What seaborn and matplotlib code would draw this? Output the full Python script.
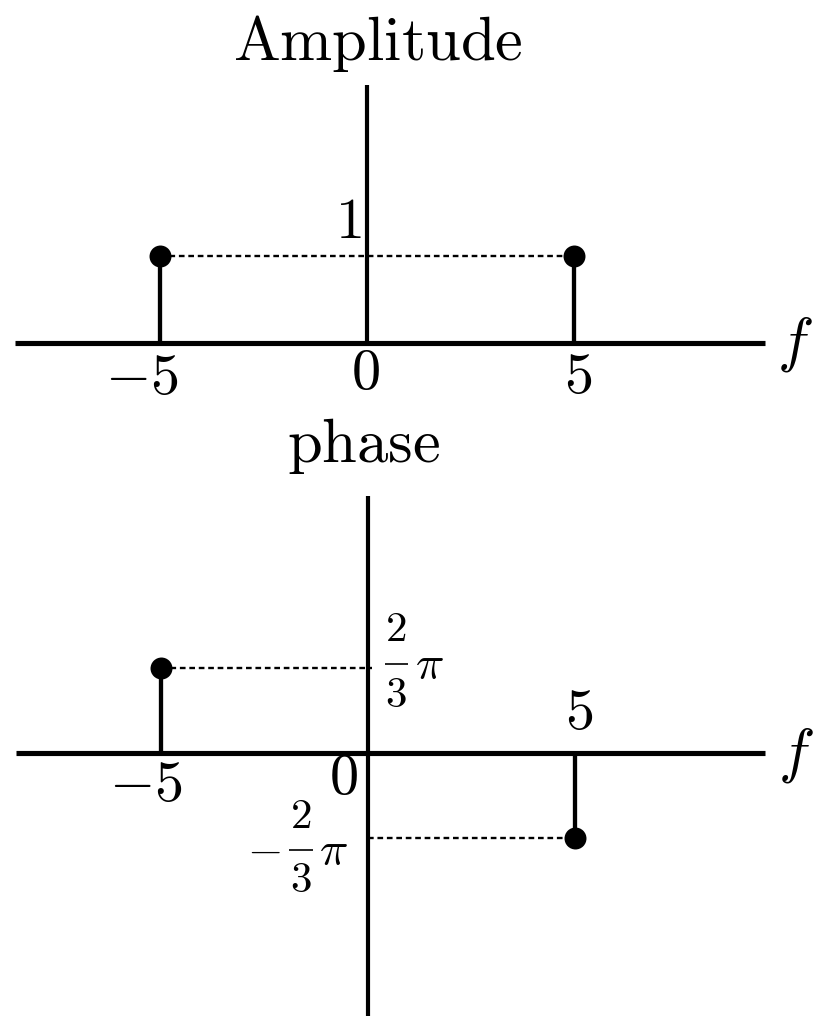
import numpy as np
import pandas as pd
import matplotlib
matplotlib.use("Agg")
import matplotlib.pyplot as plt
from matplotlib.transforms import IdentityTransform
import seaborn as sns

# Two-sided spectrum of a sinusoid at f = 5
freqs = [-5, 5]
amplitude = [1, 1]
phase = [2 * np.pi / 3, -2 * np.pi / 3]

amp_df = pd.DataFrame({"f": freqs, "value": amplitude})
ph_df = pd.DataFrame({"f": freqs, "value": phase})

sns.set_theme(style="white")
plt.rcParams["mathtext.fontset"] = "cm"
plt.rcParams["font.family"] = ["DejaVu Sans"]

W, H = 813, 1016
fig = plt.figure(figsize=(W / 100, H / 100), dpi=100)

FS = 42
AXIS_LW = 3.7
VAXIS_LW = 3.0
STEM_LW = 3.1
DASH = (0, (2.4, 1.6))
DASH_LW = 1.7
DOT_S = 250


def style_axes(ax, xb, yb):
    for side in ("top", "right"):
        ax.spines[side].set_visible(False)
    ax.spines["left"].set_position(("data", 0))
    ax.spines["bottom"].set_position(("data", 0))
    ax.spines["bottom"].set_bounds(*xb)
    ax.spines["left"].set_bounds(*yb)
    ax.spines["bottom"].set_linewidth(AXIS_LW)
    ax.spines["left"].set_linewidth(VAXIS_LW)
    for s in ax.spines.values():
        s.set_color("black")
        s.set_capstyle("butt")
    ax.set_xticks([])
    ax.set_yticks([])
    ax.set_xlabel("")
    ax.set_ylabel("")
    ax.patch.set_alpha(0)


def label(ax, text, xy, off, size=FS, ha="center", va="center"):
    ax.annotate(text, xy=xy, xytext=off, textcoords="offset pixels",
                ha=ha, va=va, fontsize=size, color="black",
                annotation_clip=False)


def frac_label(ax, xy, num, den, sign, num_off, den_off, bar, pi_off,
               sign_off=None, size=31, pi_size=34):
    """Display-style fraction (num/den)·π placed relative to a data point."""
    if sign:
        label(ax, r"$-$", xy, sign_off, size=size + 2)
    label(ax, rf"${num}$", xy, num_off, size=size)
    label(ax, rf"${den}$", xy, den_off, size=size)
    label(ax, r"$\pi$", xy, pi_off, size=pi_size)
    x0, y0 = ax.transData.transform(xy)
    ax.plot([x0 + bar[0], x0 + bar[1]], [y0 + bar[2]] * 2, color="black",
            lw=1.2, transform=IdentityTransform(), solid_capstyle="butt",
            clip_on=False)


# ---------------- amplitude spectrum ----------------
ax1 = fig.add_axes([0, 1 - 420 / H, 1, 340 / H])
ax1.set_xlim(-8.865, 10.77)
ax1.set_ylim(-0.8916, 3.030)
ax1.vlines(amp_df["f"], 0, amp_df["value"], color="black", lw=STEM_LW, zorder=3)
ax1.hlines(amplitude[0], freqs[0], freqs[1], color="black", lw=DASH_LW,
           linestyles=[DASH], zorder=2)
sns.scatterplot(data=amp_df, x="f", y="value", ax=ax1, color="black",
                s=DOT_S, linewidth=0, zorder=5, clip_on=False, legend=False)
style_axes(ax1, (-8.5, 9.6), (0, 2.97))

label(ax1, r"$-5$", (freqs[0], 0), (-18, -35))
label(ax1, r"$0$", (0, 0), (-2, -30))
label(ax1, r"$5$", (freqs[1], 0), (4, -34))
label(ax1, r"$1$", (0, amplitude[0]), (-19, 34))
label(ax1, r"$f$", (9.6, 0), (30, -2), size=44)
label(ax1, r"$\mathrm{Amplitude}$", (0, 2.97), (11, 25), size=45, va="baseline")

# ---------------- phase spectrum ----------------
ax2 = fig.add_axes([0, 0, 1, 546 / H])
ax2.set_xlim(-8.889, 10.75)
ax2.set_ylim(-6.478, 6.970)
ax2.vlines(ph_df["f"], 0, ph_df["value"], color="black", lw=STEM_LW, zorder=3)
for f, v in zip(freqs, phase):
    ax2.hlines(v, min(f, 0), max(f, 0) + 0.1, color="black", lw=DASH_LW,
               linestyles=[DASH], zorder=2)
sns.scatterplot(data=ph_df, x="f", y="value", ax=ax2, color="black",
                s=DOT_S, linewidth=0, zorder=5, clip_on=False, legend=False)
style_axes(ax2, (-8.5, 9.6), (-6.478, 6.33))

frac_label(ax2, (0, phase[0]), 2, 3, False,
           num_off=(28, 39), den_off=(28, -27), bar=(17, 40, 4),
           pi_off=(61, 1))
frac_label(ax2, (0, phase[1]), 2, 3, True,
           num_off=(-67, 22), den_off=(-67, -42), bar=(-79, -55, -12),
           pi_off=(-35, -14), sign_off=(-104, -12))
label(ax2, r"$5$", (freqs[1], 0), (4, 40))
label(ax2, r"$-5$", (freqs[0], 0), (-15, -32))
label(ax2, r"$0$", (0, 0), (-25, -25))
label(ax2, r"$f$", (9.6, 0), (30, -3), size=44)
label(ax2, r"$\mathrm{phase}$", (0, 6.33), (-4, 34), size=45, va="baseline")

fig.savefig("out.png", dpi=100, facecolor="white")
